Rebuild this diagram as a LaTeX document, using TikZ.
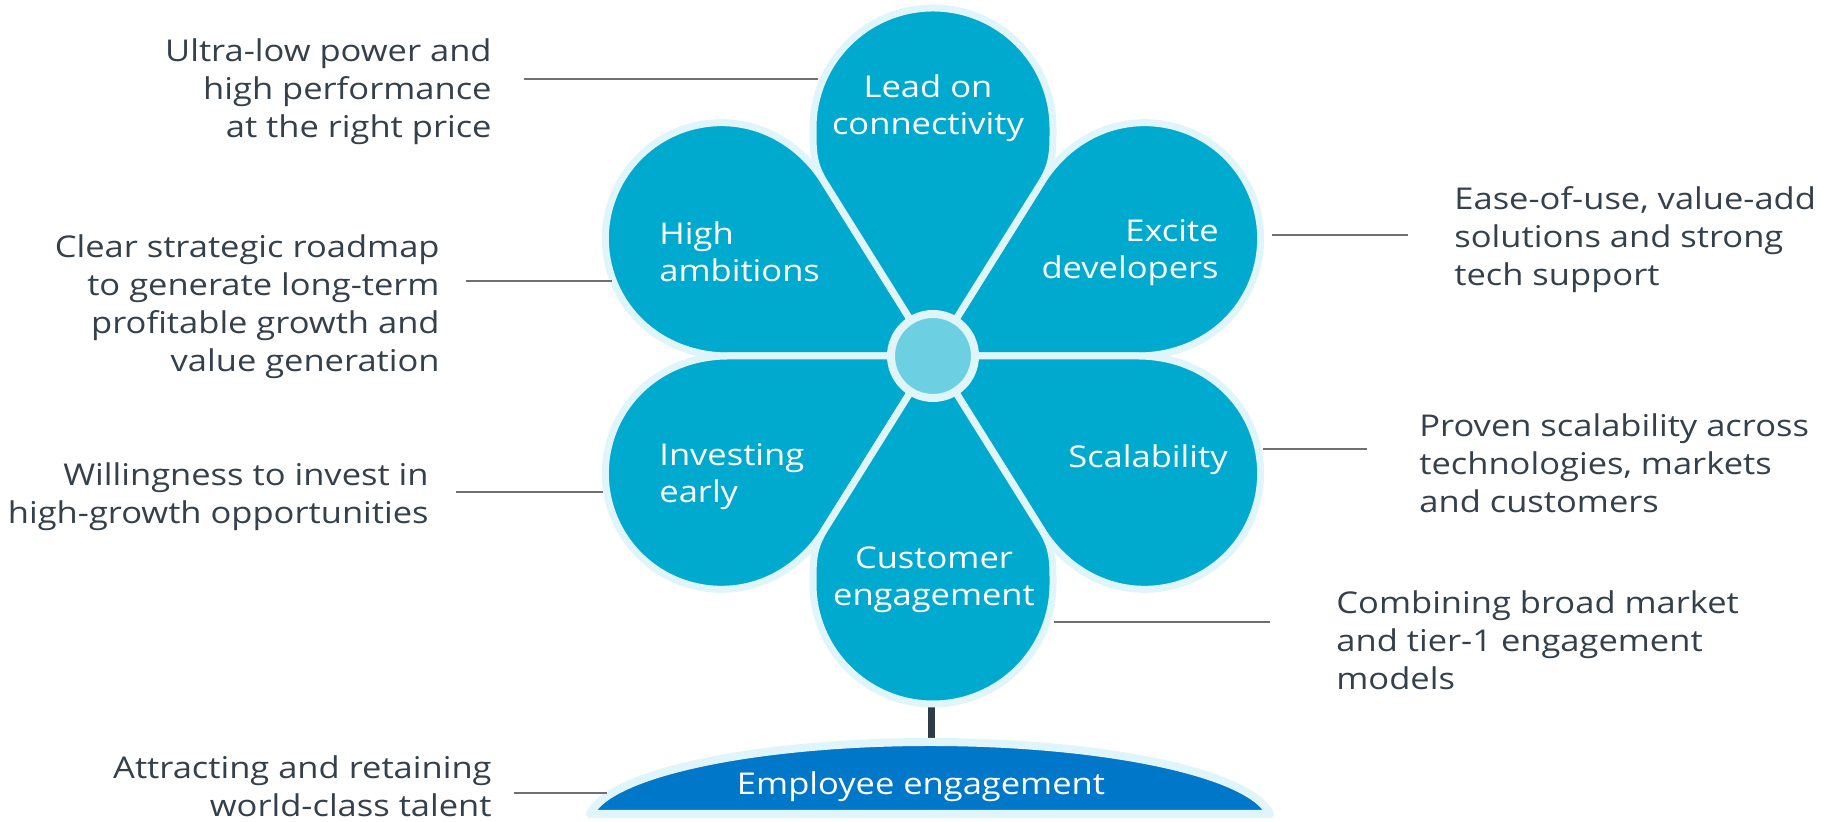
\documentclass[tikz,border=0pt]{standalone}
\usepackage{fontspec}
\setmainfont{Open Sans}[FakeStretch=1.15]
\usetikzlibrary{calc}

\definecolor{petalblue}{RGB}{0,170,206}
\definecolor{rim}{RGB}{224,245,250}
\definecolor{hubblue}{RGB}{108,208,226}
\definecolor{baseblue}{RGB}{0,119,200}
\definecolor{ink}{RGB}{52,64,75}
\definecolor{leadgray}{RGB}{110,112,116}
\definecolor{stemgray}{RGB}{46,58,70}

\begin{document}
\begin{tikzpicture}[x=0.5pt,y=0.5pt,inner sep=0pt,
  petal/.style={fill=petalblue,draw=rim,line width=3.5pt,line join=round},
  hub/.style={circle,fill=hubblue,draw=rim,line width=4pt,minimum size=42pt},
  mound/.style={fill=baseblue,draw=rim,line width=4pt,line join=round},
  lead/.style={draw=leadgray,line width=1pt},
  stalk/.style={draw=stemgray,line width=3.5pt},
  sidetext/.style={text=ink,font=\fontsize{15}{19}\selectfont},
  petaltext/.style={text=white,font=\fontsize{15}{18.5}\selectfont}]
\useasboundingbox (0,0) rectangle (1832,822);
\coordinate (ctr) at (933,466);

% stem and ground
\coordinate (budtip) at (931,118);
\coordinate (moundtop) at (931,82);
\draw[stalk] (budtip) -- (moundtop);
\draw[mound] (590,8) .. controls (610,50) and (760,80) .. (930,80)
  .. controls (1100,80) and (1250,50) .. (1270,8) -- cycle;

% petals: axis/half angle/bulb distance/bulb radius
\foreach \ang/\bet/\dist/\rad in {29/29/242/116,-29/29/242/116,151/29/242/116,209/29/242/116,90/32/228/120,270/32/228/120}
  \draw[petal,shift={(ctr)},rotate=\ang] (0,0) -- (\bet:205)
    .. controls +(\bet:22) and +(180:22) .. (\dist,\rad)
    arc[start angle=90,end angle=-90,radius=\rad]
    .. controls +(180:22) and +(-\bet:22) .. (-\bet:205) -- cycle;
\node[hub] (hub) at (ctr) {};

% petal labels
\node[petaltext,align=center] (lead) at (928,714) {Lead on\\connectivity};
\node[petaltext,align=left,anchor=west] (ambit) at (659,570) {High\\ambitions};
\node[petaltext,align=right,anchor=east] (devel) at (1219,569) {Excite\\developers};
\node[petaltext] (scal) at (1148,362) {Scalability};
\node[petaltext,align=left,anchor=west] (invest) at (659,345) {Investing\\early};
\node[petaltext,align=center] (custom) at (934,242) {Customer\\engagement};
\node[petaltext] (employ) at (921,35) {Employee engagement};

% side texts
\node[sidetext,align=right,anchor=east] (T1) at (492,730) {Ultra-low power and\\high performance\\at the right price};
\node[sidetext,align=right,anchor=east] (T2) at (440,515) {Clear strategic roadmap\\to generate long-term\\profitable growth and\\value generation};
\node[sidetext,align=right,anchor=east] (T3) at (429,325) {Willingness to invest in\\high-growth opportunities};
\node[sidetext,align=right,anchor=east] (T4) at (492,36) {Attracting and retaining\\world-class talent};
\node[sidetext,align=left,anchor=west] (T5) at (1454,582) {Ease-of-use, value-add\\solutions and strong\\tech support};
\node[sidetext,align=left,anchor=west] (T6) at (1419,359) {Proven scalability across\\technologies, markets\\and customers};
\node[sidetext,align=left,anchor=west] (T7) at (1336,182) {Combining broad market\\and tier-1 engagement\\models};

% leader lines
\coordinate (A1) at (524,743);  \coordinate (B1) at (818,743);
\coordinate (A2) at (466,541);  \coordinate (B2) at (612,541);
\coordinate (A3) at (1408,587); \coordinate (B3) at (1272,587);
\coordinate (A4) at (1367,373); \coordinate (B4) at (1263,373);
\coordinate (A5) at (456,330);  \coordinate (B5) at (603,330);
\coordinate (A6) at (1270,200); \coordinate (B6) at (1054,200);
\coordinate (A7) at (514,29);   \coordinate (B7) at (607,29);
\foreach \i in {1,...,7}
  \draw[lead] (A\i) -- (B\i);
\end{tikzpicture}
\end{document}
